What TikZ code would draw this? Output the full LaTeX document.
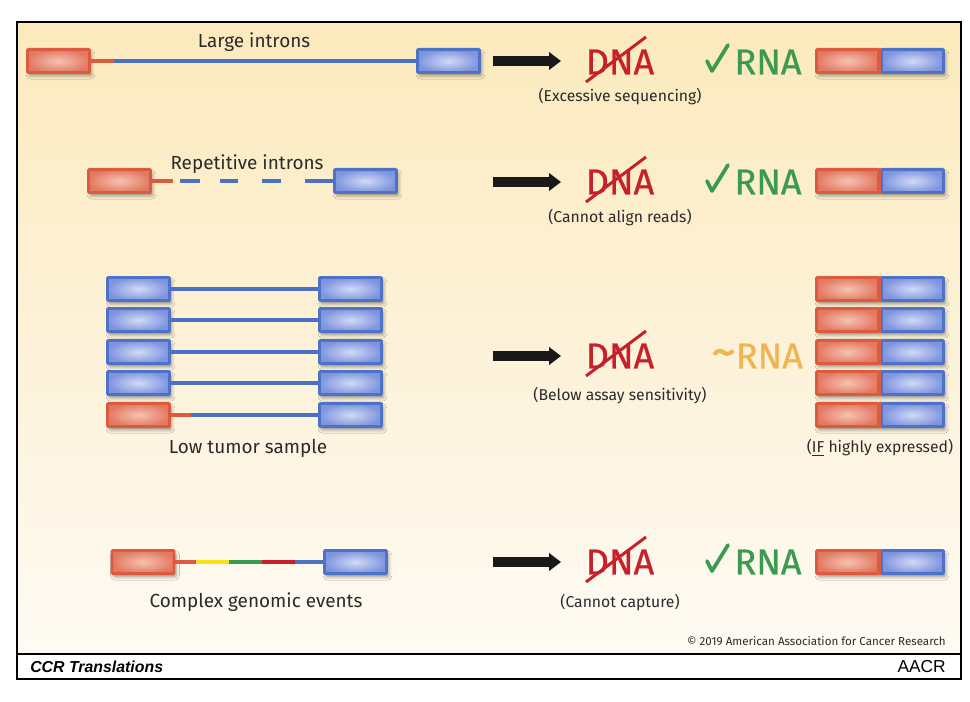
\documentclass[tikz,border=0pt]{standalone}
\usepackage{fontspec}
\setmainfont{Fira Sans}
\newfontfamily\medfont[FakeBold=0.7]{Fira Sans}
\newfontfamily\hfont{Liberation Sans}
\usetikzlibrary{shadows.blur,arrows.meta,calc}
\definecolor{exred}{HTML}{DB5A40}
\definecolor{exredin}{HTML}{F6C2B2}
\definecolor{exredout}{HTML}{E27A62}
\definecolor{exblue}{HTML}{4E72C8}
\definecolor{exbluein}{HTML}{D2DAF6}
\definecolor{exblueout}{HTML}{7E95DE}
\definecolor{inblue}{HTML}{4C70C4}
\definecolor{bgtop}{HTML}{FCEABD}
\definecolor{bgmid}{HTML}{FDF2D8}
\definecolor{bgbot}{HTML}{FEFBF4}
\definecolor{dnared}{HTML}{C8202A}
\definecolor{rnagreen}{HTML}{3B9A50}
\definecolor{rnaorange}{HTML}{F0B552}
\definecolor{cxyellow}{HTML}{F6E21A}
\definecolor{txt}{HTML}{2B2B2B}
\begin{document}
\begin{tikzpicture}[x=0.75pt,y=-0.75pt,
  exon/.style={minimum width=46.5pt, minimum height=17.3pt, inner sep=0pt, line width=2.2pt, rounded corners=0.8pt},
  redex/.style={exon, draw=exred, inner color=exredin, outer color=exredout},
  bluex/.style={exon, draw=exblue, inner color=exbluein, outer color=exblueout},
  shad/.style={blur shadow={shadow xshift=1.5pt, shadow yshift=-2.5pt, shadow blur radius=2.5pt, shadow opacity=40}},
  pairshad/.style={exon, minimum width=95.3pt, fill=exblue, shad},
  intron/.style={line width=3.4pt},
  inb/.style={intron, draw=inblue},
  inr/.style={intron, draw=exred},
  bigarrow/.style={line width=7pt, draw=black!90, -{Triangle[length=9pt, width=13pt]}},
  label/.style={font=\fontsize{14.2}{16}\selectfont, text=txt, inner sep=0pt},
  sub/.style={font=\fontsize{11.8}{13}\selectfont, text=txt, inner sep=0pt},
  dna/.style={font=\medfont\fontsize{27}{30}\selectfont, text=dnared, inner sep=0pt},
  rna/.style={font=\medfont\fontsize{27}{30}\selectfont, text=rnagreen, inner sep=0pt},
  strike/.style={line width=2.2pt, draw=dnared},
  check/.style={line width=2.8pt, draw=rnagreen, line cap=round, line join=round}
]
\useasboundingbox (0,0) rectangle (970,702);
\fill[white] (0,0) rectangle (970,702);
\shade[top color=bgtop, bottom color=bgbot, middle color=bgmid] (17,22) rectangle (961,654);
\draw[line width=1pt] (17,22) rectangle (961,679);
\draw[line width=1pt] (17,654) -- (961,654);

% ---------- Row 1 ----------
\node[redex,shad] (r1) at (58.5,61) {};
\node[bluex,shad] (b1) at (448.5,61) {};
\draw[inb] (r1.east) -- (b1.west);
\draw[inr] (r1.east) -- ($(r1.east)+(23,0)$);
\node[label] (l1) at (254,42) {Large introns};
\coordinate (a1s) at (493,61); \coordinate (a1e) at (561,61);
\draw[bigarrow] (a1s) -- (a1e);
\node[dna] (d1) at (620,62) {DNA};
\draw[strike] ($(d1.center)+(-34,20)$) -- ($(d1.center)+(26,-25)$);
\node[sub] (s1) at (620,97) {(Excessive sequencing)};
\node[rna] (n1) at (768,62) {RNA};
\draw[check] ($(n1.center)+(-61,-1)$) -- ($(n1.center)+(-56,9)$) -- ($(n1.center)+(-40,-17)$);
\node[pairshad] (p1) at (880,61) {};
\node[redex] (p1r) at (847.5,61) {};
\node[bluex] (p1b) at (912.5,61) {};
\draw[exred, line width=2.2pt] (p1r.north east) -- (p1r.south east);

% ---------- Row 2 ----------
\node[redex,shad] (r2) at (119.5,181) {};
\node[bluex,shad] (b2) at (365.5,181) {};
\draw[inr] (r2.east) -- ($(r2.east)+(21,0)$);
\draw[inb] (180,181) -- (200,181);
\draw[inb] (220,181) -- (238,181);
\draw[inb] (262,181) -- (281,181);
\draw[inb] (305,181) -- (b2.west);
\node[label] (l2) at (247,164) {Repetitive introns};
\coordinate (a2s) at (493,182); \coordinate (a2e) at (561,182);
\draw[bigarrow] (a2s) -- (a2e);
\node[dna] (d2) at (620,182) {DNA};
\draw[strike] ($(d2.center)+(-34,20)$) -- ($(d2.center)+(26,-25)$);
\node[sub] (s2) at (620,218) {(Cannot align reads)};
\node[rna] (n2) at (768,182) {RNA};
\draw[check] ($(n2.center)+(-61,-1)$) -- ($(n2.center)+(-56,9)$) -- ($(n2.center)+(-40,-17)$);
\node[pairshad] (p2) at (880,181) {};
\node[redex] (p2r) at (847.5,181) {};
\node[bluex] (p2b) at (912.5,181) {};
\draw[exred, line width=2.2pt] (p2r.north east) -- (p2r.south east);

% ---------- Row 3 ----------
\foreach \i/\yy in {1/289,2/320,3/352,4/383} {
  \node[bluex,shad] (tl\i) at (138.5,\yy) {};
  \node[bluex,shad] (tr\i) at (350.5,\yy) {};
  \draw[inb] (tl\i.east) -- (tr\i.west);
}
\node[redex,shad] (tl5) at (138.5,415) {};
\node[bluex,shad] (tr5) at (350.5,415) {};
\draw[inb] (tl5.east) -- (tr5.west);
\draw[inr] (tl5.east) -- ($(tl5.east)+(20,0)$);
\node[label] (l3) at (248,448) {Low tumor sample};
\coordinate (a3s) at (493,356); \coordinate (a3e) at (561,356);
\draw[bigarrow] (a3s) -- (a3e);
\node[dna] (d3) at (620,356) {DNA};
\draw[strike] ($(d3.center)+(-34,20)$) -- ($(d3.center)+(26,-25)$);
\node[sub] (s3) at (620,396) {(Below assay sensitivity)};
\node[rna, text=rnaorange] (n3) at (757,356) {{\fontsize{38}{38}\selectfont\textasciitilde}RNA};
\foreach \i/\yy in {1/289,2/320,3/352,4/383,5/415} {
  \node[pairshad] (q\i) at (880,\yy) {};
  \node[redex] (q\i r) at (847.5,\yy) {};
  \node[bluex] (q\i b) at (912.5,\yy) {};
  \draw[exred, line width=2.2pt] (q\i r.north east) -- (q\i r.south east);
}
\node[sub] (s3b) at (880,448) {(\underline{IF} highly expressed)};

% ---------- Row 4 ----------
\node[redex,shad] (r4) at (143,562) {};
\node[bluex,shad] (b4) at (355.5,562) {};
\coordinate (c1) at (196,562);
\coordinate (c2) at (229,562);
\coordinate (c3) at (262,562);
\coordinate (c4) at (295,562);
\draw[inr] (r4.east) -- (c1);
\draw[intron, draw=cxyellow] (c1) -- (c2);
\draw[intron, draw=rnagreen] (c2) -- (c3);
\draw[intron, draw=dnared] (c3) -- (c4);
\draw[inb] (c4) -- (b4.west);
\node[label] (l4) at (256,602) {Complex genomic events};
\coordinate (a4s) at (493,562); \coordinate (a4e) at (561,562);
\draw[bigarrow] (a4s) -- (a4e);
\node[dna] (d4) at (620,562) {DNA};
\draw[strike] ($(d4.center)+(-34,20)$) -- ($(d4.center)+(26,-25)$);
\node[sub] (s4) at (620,603) {(Cannot capture)};
\node[rna] (n4) at (768,562) {RNA};
\draw[check] ($(n4.center)+(-61,-1)$) -- ($(n4.center)+(-56,9)$) -- ($(n4.center)+(-40,-17)$);
\node[pairshad] (p4) at (880,562) {};
\node[redex] (p4r) at (847.5,562) {};
\node[bluex] (p4b) at (912.5,562) {};
\draw[exred, line width=2.2pt] (p4r.north east) -- (p4r.south east);

% ---------- footer ----------
\node[anchor=east, inner sep=0pt, text=txt, font=\fontsize{8.7}{10}\selectfont] (copy) at (946,641) {\textcopyright{} 2019 American Association for Cancer Research};
\node[anchor=west, inner sep=0pt, font=\hfont\bfseries\itshape\fontsize{11.9}{13}\selectfont] (ccr) at (30,667) {CCR Translations};
\node[anchor=east, inner sep=0pt, font=\hfont\fontsize{13}{14}\selectfont] (aacr) at (946,667) {AACR};
\end{tikzpicture}
\end{document}
